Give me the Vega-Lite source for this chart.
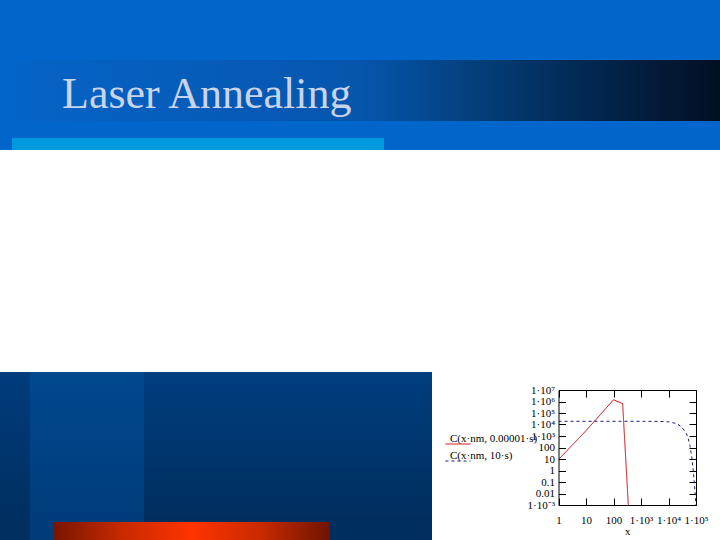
{
  "$schema": "https://vega.github.io/schema/vega-lite/v6.json",
  "background": "white",
  "padding": 0,
  "config": {
    "view": {"stroke": null},
    "axis": {"domainColor": "black", "tickColor": "black", "labelColor": "black", "grid": false, "labelFont": "Liberation Serif", "labelFontSize": 11, "titleFont": "Liberation Serif", "titleFontWeight": "normal", "titleColor": "black", "titleFontSize": 11, "labelFlush": false, "labelOverlap": false, "labelBound": false, "domainWidth": 1, "tickWidth": 1}
  },
  "data": {"values": [{}]},
  "spacing": 0,
  "vconcat": [
    {"width": 720, "height": 60, "mark": {"type": "rect", "fill": "#0066CC"}},
    {"width": 720, "height": 61,
     "title": {"text": "Laser Annealing", "anchor": "start", "frame": "group", "orient": "top", "offset": -92, "dx": 62, "baseline": "alphabetic", "font": "Liberation Serif", "fontSize": 44, "fontWeight": "normal", "color": "#C8D4EA"},
     "mark": {"type": "rect", "fill": {"gradient": "linear", "x1": 0, "y1": 0, "x2": 1, "y2": 0, "stops": [{"offset": 0, "color": "#0066CC"}, {"offset": 0.06, "color": "#0662C4"}, {"offset": 0.5, "color": "#0656AE"}, {"offset": 0.65, "color": "#04407E"}, {"offset": 0.8, "color": "#022A55"}, {"offset": 1, "color": "#020F22"}]}}},
    {"width": 720, "height": 17, "mark": {"type": "rect", "fill": "#0066CC"}},
    {"spacing": 0, "hconcat": [
      {"width": 12, "height": 12, "mark": {"type": "rect", "fill": "#0066CC"}},
      {"width": 372, "height": 12, "mark": {"type": "rect", "fill": "#0099DD"}},
      {"width": 336, "height": 12, "mark": {"type": "rect", "fill": "#0066CC"}}
    ]},
    {"width": 720, "height": 222, "mark": {"type": "rect", "fill": "white"}},
    {"spacing": 0, "hconcat": [
      {"spacing": 0, "vconcat": [
        {"spacing": 0, "hconcat": [
          {"width": 30, "height": 150, "mark": {"type": "rect", "fill": {"gradient": "linear", "x1": 0, "y1": 0, "x2": 0, "y2": 1, "stops": [{"offset": 0, "color": "#003C7C"}, {"offset": 1, "color": "#002F60"}]}}},
          {"width": 114, "height": 150, "mark": {"type": "rect", "fill": {"gradient": "linear", "x1": 0, "y1": 0, "x2": 0, "y2": 1, "stops": [{"offset": 0, "color": "#004890"}, {"offset": 1, "color": "#003C7A"}]}}},
          {"width": 288, "height": 150, "mark": {"type": "rect", "fill": {"gradient": "linear", "x1": 0, "y1": 0, "x2": 0, "y2": 1, "stops": [{"offset": 0, "color": "#003E7E"}, {"offset": 1, "color": "#002E5E"}]}}}
        ]},
        {"spacing": 0, "hconcat": [
          {"width": 30, "height": 18, "mark": {"type": "rect", "fill": "#002F60"}},
          {"width": 24, "height": 18, "mark": {"type": "rect", "fill": "#003C7A"}},
          {"width": 276, "height": 18, "mark": {"type": "rect", "fill": {"gradient": "linear", "x1": 0, "y1": 0, "x2": 1, "y2": 0, "stops": [{"offset": 0, "color": "#7A1500"}, {"offset": 0.25, "color": "#C82A00"}, {"offset": 0.5, "color": "#FF3300"}, {"offset": 0.75, "color": "#C82A00"}, {"offset": 1, "color": "#6E1400"}]}}},
          {"width": 102, "height": 18, "mark": {"type": "rect", "fill": "#002E5E"}}
        ]}
      ]},
      {"width": 288, "height": 168,
       "data": {"values": [
         {"series": "C(x·nm, 0.00001·s)", "x": 1, "c": 9},
         {"series": "C(x·nm, 0.00001·s)", "x": 10, "c": 2900},
         {"series": "C(x·nm, 0.00001·s)", "x": 100, "c": 1400000},
         {"series": "C(x·nm, 0.00001·s)", "x": 215, "c": 650000},
         {"series": "C(x·nm, 0.00001·s)", "x": 280, "c": 8},
         {"series": "C(x·nm, 0.00001·s)", "x": 345, "c": 0.001},
         {"series": "C(x·nm, 10·s)", "x": 1, "c": 19000},
         {"series": "C(x·nm, 10·s)", "x": 1000, "c": 19000},
         {"series": "C(x·nm, 10·s)", "x": 5000, "c": 18500},
         {"series": "C(x·nm, 10·s)", "x": 10000, "c": 17000},
         {"series": "C(x·nm, 10·s)", "x": 20000, "c": 12000},
         {"series": "C(x·nm, 10·s)", "x": 30000, "c": 6000},
         {"series": "C(x·nm, 10·s)", "x": 40000, "c": 2500},
         {"series": "C(x·nm, 10·s)", "x": 50000, "c": 900},
         {"series": "C(x·nm, 10·s)", "x": 60000, "c": 150},
         {"series": "C(x·nm, 10·s)", "x": 70000, "c": 15},
         {"series": "C(x·nm, 10·s)", "x": 80000, "c": 0.8},
         {"series": "C(x·nm, 10·s)", "x": 90000, "c": 0.03},
         {"series": "C(x·nm, 10·s)", "x": 100000, "c": 0.001}
       ]},
       "layer": [
         {"mark": {"type": "line", "strokeWidth": 1},
          "encoding": {
            "x": {"field": "x", "type": "quantitative", "scale": {"type": "log", "domain": [1, 100000], "range": [126.5, 264], "nice": false},
                  "axis": {"orient": "bottom", "offset": -35, "values": [1, 10, 100, 1000, 10000, 100000], "labelExpr": "['1','10','100','1·10³','1·10⁴','1·10⁵'][round(log(datum.value)/LN10)]", "tickSize": -7, "labelPadding": 16, "title": "x", "titlePadding": 0}},
            "y": {"field": "c", "type": "quantitative", "scale": {"type": "log", "domain": [0.001, 10000000], "range": [133, 18], "nice": false},
                  "axis": {"orient": "left", "offset": -126.5, "values": [0.001, 0.01, 0.1, 1, 10, 100, 1000, 10000, 100000, 1000000, 10000000], "labelExpr": "['1·10⁻³','0.01','0.1','1','10','100','1·10³','1·10⁴','1·10⁵','1·10⁶','1·10⁷'][round(log(datum.value)/LN10)+3]", "tickSize": -7, "labelPadding": 11, "title": null}},
            "color": {"field": "series", "type": "nominal", "scale": {"domain": ["C(x·nm, 0.00001·s)", "C(x·nm, 10·s)"], "range": ["#CC0000", "#1A1A80"]},
                      "legend": {"orient": "none", "legendX": 445, "legendY": 431, "title": null, "symbolType": "stroke", "symbolSize": 625, "symbolStrokeWidth": 1, "labelFont": "Liberation Serif", "labelFontSize": 11, "labelColor": "black", "labelOffset": -21, "labelBaseline": "bottom", "labelLimit": 0, "rowPadding": 2, "padding": 0}},
            "strokeDash": {"field": "series", "type": "nominal", "scale": {"domain": ["C(x·nm, 0.00001·s)", "C(x·nm, 10·s)"], "range": [[1, 0], [3, 3]]},
                      "legend": {"orient": "none", "legendX": 445, "legendY": 431, "title": null, "symbolType": "stroke", "symbolSize": 625, "symbolStrokeWidth": 1, "labelFont": "Liberation Serif", "labelFontSize": 11, "labelColor": "black", "labelOffset": -21, "labelBaseline": "bottom", "labelLimit": 0, "rowPadding": 2, "padding": 0}}
          }},
         {"mark": {"type": "line", "opacity": 0},
          "encoding": {
            "x": {"field": "x", "type": "quantitative", "scale": {"type": "log", "domain": [1, 100000], "range": [126.5, 264], "nice": false},
                  "axis": {"orient": "top", "offset": -18, "values": [1, 10, 100, 1000, 10000, 100000], "labels": false, "tickSize": -7, "title": null}},
            "y": {"field": "c", "type": "quantitative", "scale": {"type": "log", "domain": [0.001, 10000000], "range": [133, 18], "nice": false},
                  "axis": {"orient": "right", "offset": -24, "values": [0.001, 0.01, 0.1, 1, 10, 100, 1000, 10000, 100000, 1000000, 10000000], "labels": false, "tickSize": -7, "title": null}},
            "detail": {"field": "series"}
          }}
       ],
       "resolve": {"axis": {"x": "independent", "y": "independent"}}
      }
    ]}
  ]
}
